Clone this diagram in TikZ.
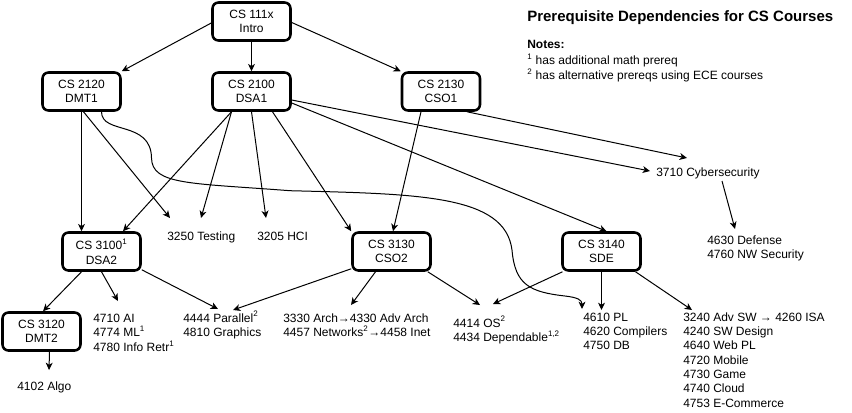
\documentclass[tikz,border=0pt]{standalone}
\usepackage{fontspec}
\setmainfont{Liberation Sans}
\usetikzlibrary{arrows.meta,calc}
% stacked lines whose baseline is that of the first line
\newcommand{\stackedlines}[1]{\begin{tabular}[t]{@{}l@{}}#1\end{tabular}}
\begin{document}
\begin{tikzpicture}[x=0.75pt,y=-0.75pt,
  course/.style={draw, line width=1.9pt, rounded corners=4.5pt,
    minimum width=58.5pt, minimum height=28.5pt, inner sep=0pt,
    align=center, font=\fontsize{9}{10.9}\selectfont},
  lbl/.style={inner sep=0pt, anchor=base west,
    font=\fontsize{9}{10.75}\selectfont},
  dep/.style={line width=0.75pt,
    -{Stealth[length=5.5pt,width=5.2pt,inset=1.6pt]}},
]
\useasboundingbox (0,0) rectangle (852,412);

% course boxes
\node[course] (intro) at (251.5,21.5) {CS 111x\\Intro};
\node[course] (dmt1)  at (81.5,91.5)  {CS 2120\\DMT1};
\node[course] (dsa1)  at (251.5,91.5) {CS 2100\\DSA1};
\node[course] (cso1)  at (441,91.5)   {CS 2130\\CSO1};
\node[course] (dsa2)  at (101.5,251.5) {CS 3100\textsuperscript{1}\\DSA2};
\node[course] (cso2)  at (391.5,251.5) {CS 3130\\CSO2};
\node[course] (sde)   at (601.5,251.5) {CS 3140\\SDE};
\node[course] (dmt2)  at (41.5,331.5)  {CS 3120\\DMT2};

% elective groups
\node[lbl] (testing) at (167,240) {3250 Testing};
\node[lbl] (hci)     at (257,240) {3205 HCI};
\node[lbl] (cyber)   at (656,176) {3710 Cybersecurity};
\node[lbl] (defense) at (707,244) {\stackedlines{4630 Defense\\4760 NW Security}};
\node[lbl] (ai)      at (93,322)  {\stackedlines{4710 AI\\4774 ML\textsuperscript{1}\\4780 Info Retr\textsuperscript{1}}};
\node[lbl] (parallel) at (183,322) {\stackedlines{4444 Parallel\textsuperscript{2}\\4810 Graphics}};
\node[lbl] (arch)    at (283,322) {\stackedlines{3330 Arch→4330 Adv Arch\\4457 Networks\textsuperscript{2}→4458 Inet}};
\node[lbl] (os)      at (453,327) {\stackedlines{4414 OS\textsuperscript{2}\\4434 Dependable\textsuperscript{1,2}}};
\node[lbl] (pl)      at (583,321) {\stackedlines{4610 PL\\4620 Compilers\\4750 DB}};
\node[lbl] (advsw)   at (683,321) {\stackedlines{3240 Adv SW → 4260 ISA\\4240 SW Design\\4640 Web PL\\4720 Mobile\\4730 Game\\4740 Cloud\\4753 E-Commerce}};
\node[lbl] (algo)    at (17,390)  {4102 Algo};

% title and notes
\node[lbl, font=\fontsize{11.25}{13}\selectfont\bfseries] (title) at (527,21)
  {Prerequisite Dependencies for CS Courses};
\node[lbl, font=\fontsize{9}{11.8}\selectfont] (notes) at (527,48.5)
  {\stackedlines{\textbf{Notes:}\\\textsuperscript{1} has additional math prereq\\\textsuperscript{2} has alternative prereqs using ECE courses}};

% dependencies
\draw[dep] ($(intro.west)+(0,1.5)$) -- (dmt1.north east);
\draw[dep] (intro) -- (dsa1);
\draw[dep] ($(intro.east)+(0,1)$) -- (cso1.north west);

\draw[dep] (dmt1.south) -- (dmt1.south |- dsa2.north);
\draw[dep] ($(dmt1.south)+(2,0)$) -- ($(testing.base west)+(3,-22)$);
\draw[dep] ($(dmt1.south)+(20,0)$)
  .. controls (101.5,135) and (151,120) .. (151.5,158)
  .. controls (152,185) and (190,183) .. (290,190.7)
  .. controls (420,194) and (505,195) .. (512,250)
  .. controls (515,285) and (530,292) .. (565,296)
  .. controls (578,297.5) and (582,300) .. ($(pl.base west)+(-1,-12)$);

\draw[dep] ($(dsa1.south)+(-20,0)$) -- ($(dsa2.north)+(21.5,0)$);
\draw[dep] ($(dsa1.south)+(-20,0)$) -- ($(testing.base west)+(34,-22)$);
\draw[dep] (dsa1.south) -- ($(hci.base west)+(9,-22)$);
\draw[dep] ($(dsa1.south)+(21,0)$) -- (cso2.north west);
\draw[dep] ($(dsa1.east)+(0,8.5)$) -- ($(cyber.base west)+(-6,-5)$);
\draw[dep] ($(dsa1.east)+(0,11.5)$) -- ($(sde.north)+(5,0)$);

\draw[dep] ($(cso1.south)+(26,0)$) -- ($(cyber.base west)+(31,-18)$);
\draw[dep] ($(cso1.south)+(-20,0)$) -- ($(cso2.north)+(1.5,0)$);
\draw[dep] ($(cyber.base west)+(66,5)$) -- ($(defense.base west)+(28,-15)$);

\draw[dep] ($(dsa2.south)+(-20,0)$) -- ($(dmt2.north)+(1.5,0)$);
\draw[dep] (dsa2.south) -- ($(ai.base west)+(25,-21)$);
\draw[dep] ($(dsa2.south east)+(0,-2)$) -- ($(parallel.base west)+(35,-13)$);

\draw[dep] ($(cso2.south west)+(0,-3)$) -- ($(parallel.base west)+(50,-12)$);
\draw[dep] ($(cso2.south)+(-16,0)$) -- ($(arch.base west)+(68,-17)$);
\draw[dep] ($(cso2.south east)+(-4,0)$) -- ($(os.base west)+(27,-22)$);

\draw[dep] ($(sde.south)+(-39,0)$) -- ($(os.base west)+(40,-23)$);
\draw[dep] (sde.south) -- ($(sde.south |- pl.base west)+(0,-11)$);
\draw[dep] ($(sde.south)+(34,0)$) -- ($(advsw.base west)+(9,-11)$);

\draw[dep] ($(dmt2.south)+(8,0)$) -- ($(algo.base west)+(32,-20)$);
\end{tikzpicture}
\end{document}
